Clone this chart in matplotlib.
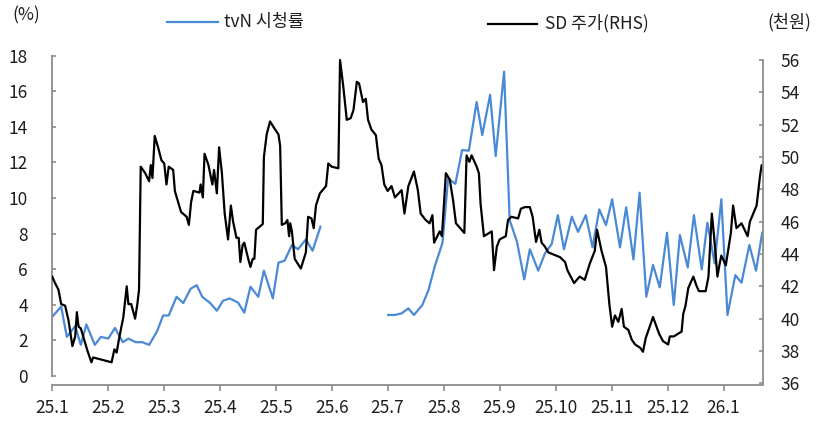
import numpy as np
import matplotlib.pyplot as plt
from matplotlib.lines import Line2D

plt.rcParams['font.family'] = ['Noto Sans CJK KR', 'DejaVu Sans']

# x positions are in months since 25.1
month_labels = ['25.1', '25.2', '25.3', '25.4', '25.5', '25.6', '25.7',
                '25.8', '25.9', '25.10', '25.11', '25.12', '26.1']

# tvN ratings (%), two segments (gap in June)
tvn_x_a = [0.01, 0.17, 0.27, 0.42, 0.52, 0.62, 0.77, 0.88, 1.01, 1.13,
           1.27, 1.37, 1.50, 1.62, 1.74, 1.88, 1.99, 2.09, 2.23, 2.35,
           2.48, 2.59, 2.69, 2.83, 2.95, 3.06, 3.18, 3.33, 3.44, 3.55,
           3.69, 3.79, 3.95, 4.05, 4.16, 4.29, 4.40, 4.54, 4.66, 4.80]
tvn_a = [3.33, 3.9, 2.2, 2.8, 1.75, 2.9, 1.75, 2.2, 2.1, 2.7,
         1.9, 2.1, 1.9, 1.9, 1.75, 2.5, 3.4, 3.4, 4.45, 4.1,
         4.9, 5.1, 4.45, 4.1, 3.67, 4.23, 4.36, 4.12, 3.56, 5.02,
         4.45, 5.92, 4.36, 6.37, 6.48, 7.36, 7.12, 7.68, 7.04, 8.39]

tvn_x_b = [6.01, 6.13, 6.25, 6.37, 6.47, 6.62, 6.73, 6.84, 6.98, 7.08,
           7.21, 7.33, 7.45, 7.59, 7.69, 7.83, 7.93, 8.08, 8.18, 8.31,
           8.44, 8.54, 8.69, 8.81, 8.93, 9.04, 9.15, 9.29, 9.40, 9.54,
           9.66, 9.78, 9.90, 10.01, 10.15, 10.26, 10.39, 10.50, 10.62, 10.74,
           10.86, 10.99, 11.11, 11.22, 11.36, 11.47, 11.61, 11.71, 11.84, 11.96,
           12.07, 12.21, 12.32, 12.46, 12.58, 12.69]
tvn_b = [3.43, 3.43, 3.52, 3.8, 3.43, 3.99, 4.83, 6.14, 7.49, 11.1,
         10.8, 12.7, 12.66, 15.4, 13.54, 15.8, 12.36, 17.1, 8.76, 7.55,
         5.43, 7.12, 5.92, 6.89, 7.42, 9.04, 7.12, 8.95, 8.1, 9.04,
         7.23, 9.36, 8.48, 9.93, 7.23, 9.48, 6.55, 10.3, 4.46, 6.24,
         4.98, 8.05, 3.99, 7.92, 6.1, 9.04, 5.99, 8.61, 6.33, 9.93,
         3.43, 5.67, 5.24, 7.36, 5.92, 8.05]

# SD share price (천원, RHS)
sd_x = [0.01, 0.06, 0.12, 0.17, 0.24, 0.30, 0.37, 0.42, 0.45, 0.48,
        0.52, 0.58, 0.64, 0.68, 0.71, 0.74, 1.07, 1.12, 1.16, 1.20,
        1.28, 1.34, 1.37, 1.42, 1.49, 1.53, 1.56, 1.59, 1.67, 1.74,
        1.77, 1.80, 1.84, 1.90, 1.96, 2.01, 2.05, 2.09, 2.17, 2.20,
        2.25, 2.31, 2.41, 2.45, 2.49, 2.53, 2.64, 2.66, 2.70, 2.73,
        2.80, 2.87, 2.90, 2.95, 2.99, 3.04, 3.09, 3.15, 3.20, 3.24,
        3.30, 3.34, 3.37, 3.41, 3.44, 3.51, 3.55, 3.59, 3.62, 3.65,
        3.72, 3.77, 3.79, 3.84, 3.90, 3.99, 4.05, 4.08, 4.11, 4.17,
        4.21, 4.24, 4.26, 4.29, 4.34, 4.45, 4.54, 4.58, 4.64, 4.68,
        4.72, 4.79, 4.90, 4.94, 5.00, 5.12, 5.15, 5.21, 5.27, 5.34,
        5.39, 5.45, 5.49, 5.56, 5.61, 5.65, 5.71, 5.79, 5.84, 5.89,
        5.94, 6.00, 6.07, 6.13, 6.25, 6.30, 6.37, 6.47, 6.54, 6.59,
        6.68, 6.75, 6.80, 6.83, 6.93, 6.97, 7.04, 7.11, 7.17, 7.22,
        7.37, 7.41, 7.46, 7.50, 7.59, 7.63, 7.66, 7.72, 7.86, 7.90,
        7.95, 8.00, 8.11, 8.15, 8.21, 8.33, 8.38, 8.45, 8.54, 8.59,
        8.65, 8.71, 8.75, 8.81, 8.87, 9.08, 9.17, 9.21, 9.33, 9.43,
        9.52, 9.61, 9.70, 9.74, 9.82, 9.90, 9.96, 10.01, 10.06, 10.12,
        10.18, 10.22, 10.30, 10.36, 10.42, 10.51, 10.56, 10.61, 10.70, 10.74,
        10.85, 10.92, 11.01, 11.04, 11.11, 11.25, 11.28, 11.32, 11.37, 11.46,
        11.52, 11.56, 11.68, 11.73, 11.79, 11.83, 11.89, 11.93, 11.96, 12.04,
        12.13, 12.17, 12.23, 12.32, 12.43, 12.47, 12.59, 12.65, 12.68, 12.71]
sd_price = [42.6, 42.2, 41.8, 40.9, 40.8, 39.9, 38.3, 38.9, 40.4, 39.5,
            39.4, 38.7, 38.0, 37.6, 37.3, 37.6, 37.3, 38.1, 37.9, 38.7,
            40.1, 42.0, 40.9, 40.9, 40.0, 40.9, 41.8, 49.4, 49.0, 48.5,
            49.5, 48.7, 51.3, 50.6, 49.8, 49.6, 48.3, 49.4, 49.2, 47.9,
            47.3, 46.6, 46.3, 45.8, 47.2, 47.9, 47.8, 48.3, 47.5, 50.2,
            49.5, 48.3, 49.2, 47.75, 50.6, 49.0, 46.5, 44.9, 47.0, 46.0,
            45.0, 45.0, 43.5, 44.55, 44.7, 43.7, 43.2, 43.7, 43.7, 45.5,
            45.7, 45.85, 50.0, 51.4, 52.2, 51.7, 51.4, 50.7, 45.8, 45.9,
            46.1, 45.1, 45.9, 45.4, 43.7, 43.1, 44.1, 46.3, 46.2, 45.6,
            47.0, 47.75, 48.2, 49.6, 49.4, 49.3, 56.0, 54.3, 52.3, 52.4,
            52.9, 54.65, 54.55, 53.4, 53.6, 52.3, 51.7, 51.35, 49.9, 49.5,
            48.3, 47.9, 48.2, 47.5, 47.95, 46.5, 48.2, 49.1, 47.95, 46.5,
            46.1, 45.9, 46.4, 44.7, 45.4, 45.1, 49.0, 48.6, 47.3, 45.9,
            45.3, 50.1, 49.7, 50.1, 49.4, 49.0, 47.1, 45.1, 45.4, 43.0,
            44.45, 44.9, 45.1, 46.1, 46.3, 46.2, 46.8, 46.9, 46.9, 46.3,
            44.75, 45.5, 44.7, 44.45, 44.1, 43.8, 43.5, 43.0, 42.2, 42.6,
            42.4, 43.4, 44.2, 45.5, 44.2, 43.2, 40.9, 39.5, 40.2, 39.8,
            40.6, 39.5, 39.3, 38.7, 38.4, 38.2, 37.95, 38.8, 39.7, 40.1,
            39.05, 38.6, 38.4, 38.9, 38.9, 39.2, 40.3, 40.8, 41.9, 42.6,
            42.0, 41.7, 41.7, 42.6, 46.5, 45.1, 42.6, 43.4, 43.9, 43.3,
            45.3, 47.0, 45.6, 45.9, 45.1, 46.0, 47.0, 48.8, 49.5, 49.3]

blue = '#4a89d6'
grey = '#8c8c8c'
txt = '#1e1e1e'
fs = 12.5

fig = plt.figure(figsize=(8.23, 4.21), dpi=100)
ax = fig.add_axes([0.0628, 0.0855, 0.8647, 0.7822])
ax2 = ax.twinx()

ax.plot(tvn_x_a, tvn_a, color=blue, lw=1.6)
ax.plot(tvn_x_b, tvn_b, color=blue, lw=1.6)
ax2.plot(sd_x, sd_price, color='black', lw=1.6)

ax.set_xlim(0, 12.71)
ax.set_ylim(-0.506, 18)
ax2.set_ylim(35.895, 56.266)
ax.set_yticks(np.arange(0, 19, 2))
ax2.set_yticks(np.arange(36, 57, 2))
ax.set_xticks(np.arange(len(month_labels)))
ax.set_xticklabels(month_labels)

for a in (ax, ax2):
    for s in a.spines.values():
        s.set_color(grey)
        s.set_linewidth(1.3)
    a.spines['top'].set_visible(False)
ax.spines['right'].set_visible(False)
ax2.spines['left'].set_visible(False)
ax2.spines['bottom'].set_visible(False)
ax.spines['left'].set_bounds(0, 18)
ax2.spines['right'].set_bounds(36, 56)

ax.tick_params(axis='y', direction='in', length=3, width=1.2, color=grey,
               pad=17, labelsize=fs, labelcolor=txt)
ax2.tick_params(axis='y', direction='in', length=3, width=1.2, color=grey,
                pad=12.5, labelsize=fs, labelcolor=txt)
ax.tick_params(axis='x', direction='out', length=4, width=1.2, color=grey,
               pad=6, labelsize=fs, labelcolor=txt)

# legend and unit labels
W, H = 823, 421
fig.add_artist(Line2D([167 / W, 218 / W], [1 - 22 / H, 1 - 22 / H], color=blue, lw=1.6))
fig.text(224 / W, 1 - 22.5 / H, 'tvN 시청률', fontsize=fs, color=txt, va='center', ha='left')
fig.add_artist(Line2D([488 / W, 537 / W], [1 - 24 / H, 1 - 24 / H], color='black', lw=1.6))
fig.text(545 / W, 1 - 23 / H, 'SD 주가(RHS)', fontsize=fs, color=txt, va='center', ha='left')
fig.text(12 / W, 1 - 15 / H, '(%)', fontsize=fs, color=txt, va='center', ha='left')
fig.text(767 / W, 1 - 22.5 / H, '(천원)', fontsize=fs, color=txt, va='center', ha='left')

fig.savefig('out.png', dpi=100)
